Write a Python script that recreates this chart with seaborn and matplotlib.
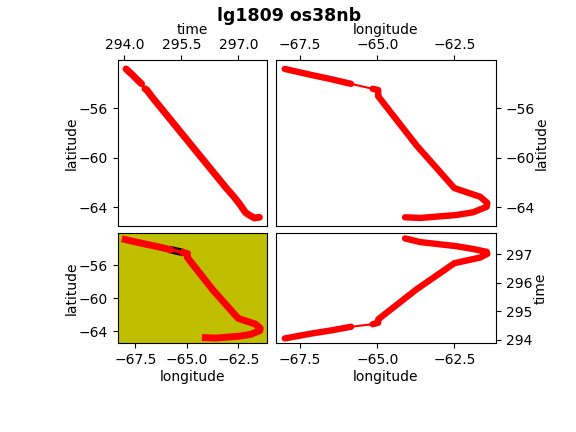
import pandas as pd
import matplotlib
matplotlib.use('Agg')
import matplotlib.pyplot as plt
import seaborn as sns

# posiciones, en orden de tiempo
time_a = [294.04, 294.20, 294.33, 294.45]
lon_a = [-68.0, -67.2, -66.45, -65.85]
lat_a = [-52.85, -53.3, -53.7, -54.05]

time_b = [294.54, 294.59, 294.65, 294.71, 295.76, 296.68, 296.88, 297.01, 297.08, 297.18, 297.28, 297.42, 297.55]
lon_b = [-65.15, -64.97, -64.97, -64.97, -63.73, -62.50, -61.66, -61.43, -61.45, -61.90, -62.45, -63.60, -64.10]
lat_b = [-54.45, -54.55, -54.8, -55.05, -59.0, -62.45, -63.15, -63.65, -63.95, -64.4, -64.62, -64.85, -64.8]

track_a = pd.DataFrame({'time': time_a, 'lon': lon_a, 'lat': lat_a})
track_b = pd.DataFrame({'time': time_b, 'lon': lon_b, 'lat': lat_b})
gap = pd.DataFrame({'time': [time_a[-1], time_b[0]], 'lon': [lon_a[-1], lon_b[0]], 'lat': [lat_a[-1], lat_b[0]]})


def track(ax, x, y, width, cap='round', gap_width=1.5):
    # tramos gruesos y la union fina entre ellos
    for leg in (track_a, track_b):
        sns.lineplot(data=leg, x=x, y=y, ax=ax, color='red', linewidth=width, sort=False,
                     estimator=None, solid_capstyle=cap, solid_joinstyle='round')
    sns.lineplot(data=gap, x=x, y=y, ax=ax, color='red', linewidth=gap_width, sort=False, estimator=None)


sns.set_style('ticks')
plt.rcParams['font.family'] = ['DejaVu Sans']
plt.rcParams.update({'text.color': 'black', 'axes.labelcolor': 'black', 'axes.edgecolor': 'black',
                     'xtick.color': 'black', 'ytick.color': 'black', 'axes.linewidth': 0.8,
                     'xtick.major.size': 3.5, 'ytick.major.size': 3.5,
                     'xtick.major.width': 0.8, 'ytick.major.width': 0.8})
fig = plt.figure(figsize=(5.76, 4.32), dpi=100)
ax1 = fig.add_axes([118 / 576, 1 - 226 / 432, 149 / 576, 166 / 432])
ax2 = fig.add_axes([275.5 / 576, 1 - 226 / 432, 220.5 / 576, 166 / 432])
ax3 = fig.add_axes([118 / 576, 1 - 343 / 432, 149 / 576, 110 / 432])
ax4 = fig.add_axes([275.5 / 576, 1 - 343 / 432, 220.5 / 576, 110 / 432])

track(ax1, 'time', 'lat', 5.0)
ax1.set_xlim(293.83, 297.75)
ax1.set_ylim(-65.5, -52.13)
ax1.set_xticks([294.0, 295.5, 297.0])
ax1.set_yticks([-56, -60, -64])
ax1.tick_params(axis='x', pad=2)
ax1.set_xlabel('time', labelpad=3)
ax1.set_ylabel('latitude', labelpad=0)
ax1.xaxis.tick_top()
ax1.xaxis.set_label_position('top')

track(ax2, 'lon', 'lat', 4.6)
ax2.set_xlim(-68.3, -61.15)
ax2.set_ylim(-65.5, -52.13)
ax2.set_xticks([-67.5, -65.0, -62.5])
ax2.set_yticks([-56, -60, -64])
ax2.tick_params(axis='x', pad=2)
ax2.set_xlabel('longitude', labelpad=3)
ax2.set_ylabel('latitude', labelpad=0)
ax2.xaxis.tick_top()
ax2.xaxis.set_label_position('top')
ax2.yaxis.tick_right()
ax2.yaxis.set_label_position('right')

ax3.set_facecolor('#bfbf00')
sns.lineplot(data=gap, x='lon', y='lat', ax=ax3, color='black', linewidth=5.4, sort=False, estimator=None,
             solid_capstyle='butt')
track(ax3, 'lon', 'lat', 5.0, cap='projecting', gap_width=2.6)
ax3.set_xlim(-68.35, -61.1)
ax3.set_ylim(-65.45, -52.05)
ax3.set_xticks([-67.5, -65.0, -62.5])
ax3.set_yticks([-56, -60, -64])
ax3.set_xlabel('longitude', labelpad=2.5)
ax3.set_ylabel('latitude', labelpad=0)

track(ax4, 'lon', 'time', 4.6)
ax4.set_xlim(-68.3, -61.15)
ax4.set_ylim(293.88, 297.74)
ax4.set_xticks([-67.5, -65.0, -62.5])
ax4.set_yticks([294, 295, 296, 297])
ax4.set_xlabel('longitude', labelpad=2.5)
ax4.set_ylabel('time', labelpad=1)
ax4.yaxis.tick_right()
ax4.yaxis.set_label_position('right')

fig.text(289 / 576, 1 - 16 / 432, 'lg1809 os38nb', ha='center', va='center', fontsize=12.5, fontweight='bold')
fig.savefig('out.png', dpi=100)
